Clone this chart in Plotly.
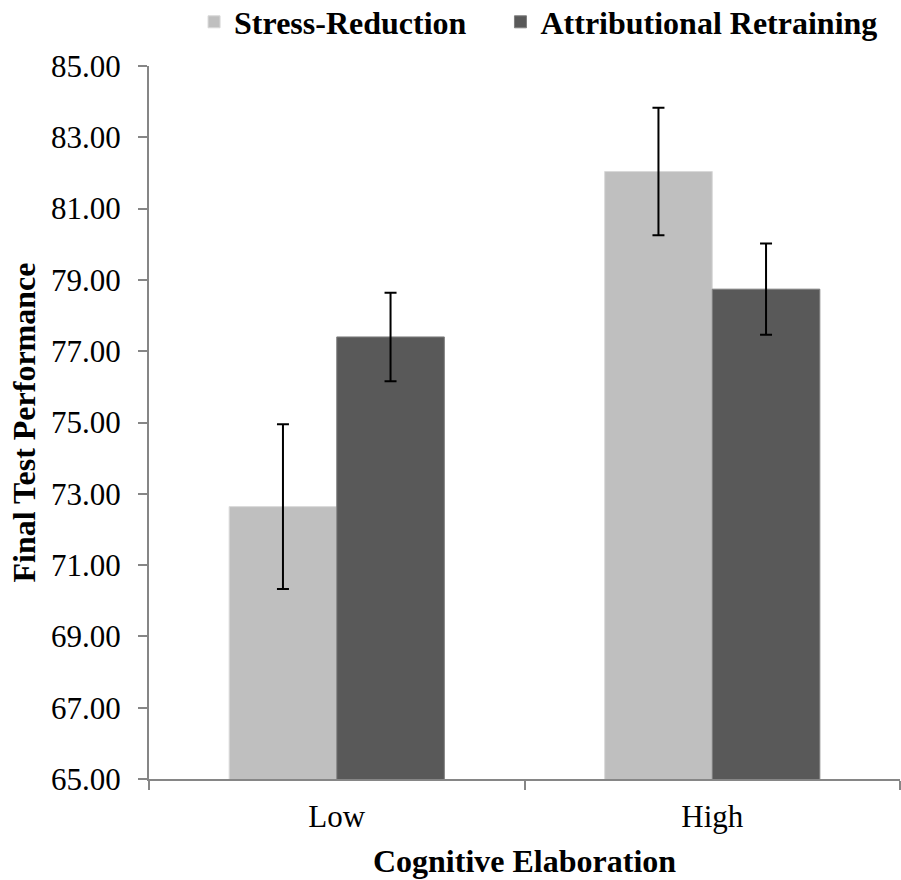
import plotly.graph_objects as go

categories = ["Low", "High"]
series_names = ["Stress-Reduction", "Attributional Retraining"]
stress_values = [72.64, 82.04]
stress_errors = [2.31, 1.79]
attrib_values = [77.40, 78.74]
attrib_errors = [1.24, 1.28]
y_tick_values = [65, 67, 69, 71, 73, 75, 77, 79, 81, 83, 85]

FONT = "Liberation Serif, Times New Roman, serif"
AXIS_GRAY = "#868686"

fig = go.Figure()
fig.add_trace(go.Bar(
    name=series_names[0], x=categories, y=stress_values, legend="legend",
    marker=dict(color="#BFBFBF", line=dict(color="#D9D9D9", width=1)),
    error_y=dict(type="data", array=stress_errors, visible=True,
                 color="black", thickness=2, width=6),
))
fig.add_trace(go.Bar(
    name=series_names[1], x=categories, y=attrib_values, legend="legend2",
    marker=dict(color="#595959", line=dict(color="#7F7F7F", width=1)),
    error_y=dict(type="data", array=attrib_errors, visible=True,
                 color="black", thickness=2, width=6),
))

legend_font = dict(family=FONT, size=32, color="black", weight="bold")
fig.update_layout(
    width=901, height=880,
    margin=dict(l=149, r=1, t=66, b=101, autoexpand=False),
    paper_bgcolor="white", plot_bgcolor="white",
    font=dict(family=FONT, size=31, color="black"),
    barmode="group", bargap=0.427, bargroupgap=0,
    showlegend=True,
    legend=dict(orientation="h", x=0.060, xanchor="left", y=1.0617, yanchor="middle",
                font=legend_font, bgcolor="rgba(0,0,0,0)"),
    legend2=dict(orientation="h", x=0.468, xanchor="left", y=1.0617, yanchor="middle",
                 font=legend_font, bgcolor="rgba(0,0,0,0)"),
)
fig.update_yaxes(
    range=[65, 85], tickvals=y_tick_values, tickformat=".2f",
    showline=True, linecolor=AXIS_GRAY, linewidth=2,
    ticks="outside", ticklen=9, tickcolor=AXIS_GRAY, tickwidth=2,
    showgrid=False, zeroline=False, ticklabelstandoff=11,
    title=dict(text="<b>Final Test Performance</b>", font=dict(size=32), standoff=6),
)
fig.update_xaxes(
    showline=True, linecolor=AXIS_GRAY, linewidth=2,
    ticks="outside", ticklen=9, tickcolor=AXIS_GRAY, tickwidth=2,
    tickson="boundaries", showgrid=False, ticklabelstandoff=9,
    title=dict(text="<b>Cognitive Elaboration</b>", font=dict(size=32), standoff=16),
)

fig.write_html("out.html", config={"displayModeBar": False},
               post_script="document.body.style.margin='0';")
